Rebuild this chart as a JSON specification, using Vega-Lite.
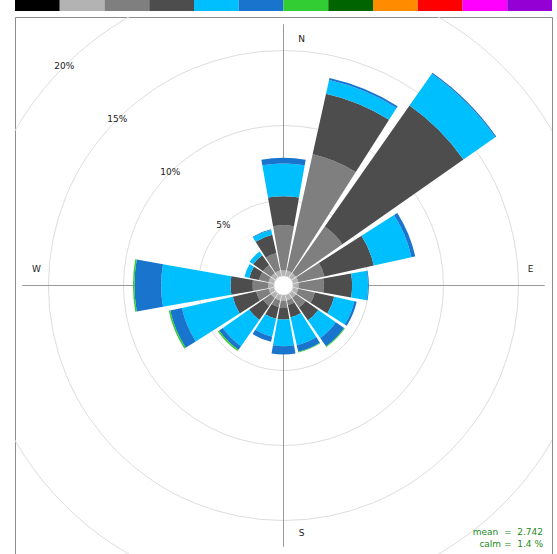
{
  "$schema": "https://vega.github.io/schema/vega-lite/v6.json",
  "bounds": "flush",
  "padding": {"left": 14, "top": 0, "right": 6, "bottom": 0},
  "spacing": 6,
  "config": {"view": {"stroke": null}, "font": "DejaVu Sans"},
  "datasets": {
    "bins": [
      {"k": 1, "ws": "0 to 0.5"}, {"k": 2, "ws": "0.5 to 1"}, {"k": 3, "ws": "1 to 2"}, {"k": 4, "ws": "2 to 3"},
      {"k": 5, "ws": "3 to 4"}, {"k": 6, "ws": "4 to 5"}, {"k": 7, "ws": "5 to 6"}, {"k": 8, "ws": "6 to 7"},
      {"k": 9, "ws": "7 to 8"}, {"k": 10, "ws": "8 to 9"}, {"k": 11, "ws": "9 to 10"}, {"k": 12, "ws": "10 to 11"}
    ],
    "rings": [{"pct": 5, "label": "5%"}, {"pct": 10, "label": "10%"}, {"pct": 15, "label": "15%"}, {"pct": 20, "label": "20%"}, {"pct": 25, "label": "25%"}],
    "axes": [{"angle": 0}, {"angle": 90}, {"angle": 180}, {"angle": 270}],
    "rose": [
      {"wd": 0, "k": 2, "ws": "0.5 to 1", "freq": 0.35}, {"wd": 0, "k": 3, "ws": "1 to 2", "freq": 3.0}, {"wd": 0, "k": 4, "ws": "2 to 3", "freq": 1.94}, {"wd": 0, "k": 5, "ws": "3 to 4", "freq": 2.18}, {"wd": 0, "k": 6, "ws": "4 to 5", "freq": 0.38},
      {"wd": 22.5, "k": 2, "ws": "0.5 to 1", "freq": 0.35}, {"wd": 22.5, "k": 3, "ws": "1 to 2", "freq": 7.95}, {"wd": 22.5, "k": 4, "ws": "2 to 3", "freq": 4.13}, {"wd": 22.5, "k": 5, "ws": "3 to 4", "freq": 0.94}, {"wd": 22.5, "k": 6, "ws": "4 to 5", "freq": 0.13},
      {"wd": 45, "k": 2, "ws": "0.5 to 1", "freq": 0.35}, {"wd": 45, "k": 3, "ws": "1 to 2", "freq": 3.78}, {"wd": 45, "k": 4, "ws": "2 to 3", "freq": 9.85}, {"wd": 45, "k": 5, "ws": "3 to 4", "freq": 2.59}, {"wd": 45, "k": 6, "ws": "4 to 5", "freq": 0.08},
      {"wd": 67.5, "k": 2, "ws": "0.5 to 1", "freq": 0.35}, {"wd": 67.5, "k": 3, "ws": "1 to 2", "freq": 1.78}, {"wd": 67.5, "k": 4, "ws": "2 to 3", "freq": 3.37}, {"wd": 67.5, "k": 5, "ws": "3 to 4", "freq": 2.57}, {"wd": 67.5, "k": 6, "ws": "4 to 5", "freq": 0.26},
      {"wd": 90, "k": 2, "ws": "0.5 to 1", "freq": 0.35}, {"wd": 90, "k": 3, "ws": "1 to 2", "freq": 1.67}, {"wd": 90, "k": 4, "ws": "2 to 3", "freq": 1.89}, {"wd": 90, "k": 5, "ws": "3 to 4", "freq": 1.06}, {"wd": 90, "k": 6, "ws": "4 to 5", "freq": 0.05},
      {"wd": 112.5, "k": 2, "ws": "0.5 to 1", "freq": 0.35}, {"wd": 112.5, "k": 3, "ws": "1 to 2", "freq": 1.12}, {"wd": 112.5, "k": 4, "ws": "2 to 3", "freq": 1.33}, {"wd": 112.5, "k": 5, "ws": "3 to 4", "freq": 1.37}, {"wd": 112.5, "k": 6, "ws": "4 to 5", "freq": 0.16},
      {"wd": 135, "k": 2, "ws": "0.5 to 1", "freq": 0.35}, {"wd": 135, "k": 3, "ws": "1 to 2", "freq": 0.78}, {"wd": 135, "k": 4, "ws": "2 to 3", "freq": 1.04}, {"wd": 135, "k": 5, "ws": "3 to 4", "freq": 1.43}, {"wd": 135, "k": 6, "ws": "4 to 5", "freq": 0.67}, {"wd": 135, "k": 7, "ws": "5 to 6", "freq": 0.06},
      {"wd": 157.5, "k": 2, "ws": "0.5 to 1", "freq": 0.35}, {"wd": 157.5, "k": 3, "ws": "1 to 2", "freq": 0.32}, {"wd": 157.5, "k": 4, "ws": "2 to 3", "freq": 0.83}, {"wd": 157.5, "k": 5, "ws": "3 to 4", "freq": 1.9}, {"wd": 157.5, "k": 6, "ws": "4 to 5", "freq": 0.45}, {"wd": 157.5, "k": 7, "ws": "5 to 6", "freq": 0.05},
      {"wd": 180, "k": 2, "ws": "0.5 to 1", "freq": 0.35}, {"wd": 180, "k": 3, "ws": "1 to 2", "freq": 0.45}, {"wd": 180, "k": 4, "ws": "2 to 3", "freq": 0.8}, {"wd": 180, "k": 5, "ws": "3 to 4", "freq": 1.78}, {"wd": 180, "k": 6, "ws": "4 to 5", "freq": 0.55},
      {"wd": 202.5, "k": 2, "ws": "0.5 to 1", "freq": 0.35}, {"wd": 202.5, "k": 3, "ws": "1 to 2", "freq": 0.45}, {"wd": 202.5, "k": 4, "ws": "2 to 3", "freq": 0.8}, {"wd": 202.5, "k": 5, "ws": "3 to 4", "freq": 1.23}, {"wd": 202.5, "k": 6, "ws": "4 to 5", "freq": 0.34},
      {"wd": 225, "k": 2, "ws": "0.5 to 1", "freq": 0.35}, {"wd": 225, "k": 3, "ws": "1 to 2", "freq": 0.65}, {"wd": 225, "k": 4, "ws": "2 to 3", "freq": 1.13}, {"wd": 225, "k": 5, "ws": "3 to 4", "freq": 2.14}, {"wd": 225, "k": 6, "ws": "4 to 5", "freq": 0.3}, {"wd": 225, "k": 7, "ws": "5 to 6", "freq": 0.1},
      {"wd": 247.5, "k": 2, "ws": "0.5 to 1", "freq": 0.35}, {"wd": 247.5, "k": 3, "ws": "1 to 2", "freq": 0.85}, {"wd": 247.5, "k": 4, "ws": "2 to 3", "freq": 1.6}, {"wd": 247.5, "k": 5, "ws": "3 to 4", "freq": 3.47}, {"wd": 247.5, "k": 6, "ws": "4 to 5", "freq": 0.8}, {"wd": 247.5, "k": 7, "ws": "5 to 6", "freq": 0.1},
      {"wd": 270, "k": 2, "ws": "0.5 to 1", "freq": 0.35}, {"wd": 270, "k": 3, "ws": "1 to 2", "freq": 1.05}, {"wd": 270, "k": 4, "ws": "2 to 3", "freq": 1.47}, {"wd": 270, "k": 5, "ws": "3 to 4", "freq": 4.62}, {"wd": 270, "k": 6, "ws": "4 to 5", "freq": 1.78}, {"wd": 270, "k": 7, "ws": "5 to 6", "freq": 0.1},
      {"wd": 292.5, "k": 2, "ws": "0.5 to 1", "freq": 0.35}, {"wd": 292.5, "k": 3, "ws": "1 to 2", "freq": 0.65}, {"wd": 292.5, "k": 4, "ws": "2 to 3", "freq": 0.67}, {"wd": 292.5, "k": 5, "ws": "3 to 4", "freq": 0.33},
      {"wd": 315, "k": 2, "ws": "0.5 to 1", "freq": 0.35}, {"wd": 315, "k": 3, "ws": "1 to 2", "freq": 0.65}, {"wd": 315, "k": 4, "ws": "2 to 3", "freq": 0.8}, {"wd": 315, "k": 5, "ws": "3 to 4", "freq": 0.3},
      {"wd": 337.5, "k": 2, "ws": "0.5 to 1", "freq": 0.35}, {"wd": 337.5, "k": 3, "ws": "1 to 2", "freq": 1.18}, {"wd": 337.5, "k": 4, "ws": "2 to 3", "freq": 1.27}, {"wd": 337.5, "k": 5, "ws": "3 to 4", "freq": 0.33}, {"wd": 337.5, "k": 6, "ws": "4 to 5", "freq": 0.04}
    ]
  },
  "vconcat": [
    {
      "width": 537,
      "height": 11,
      "data": {"name": "bins"},
      "mark": {"type": "bar"},
      "encoding": {
        "x": {"field": "ws", "type": "ordinal", "sort": {"field": "k"}, "scale": {"paddingInner": 0, "paddingOuter": 0}, "axis": null},
        "color": {
          "field": "ws", "type": "ordinal",
          "scale": {
            "domain": ["0 to 0.5", "0.5 to 1", "1 to 2", "2 to 3", "3 to 4", "4 to 5", "5 to 6", "6 to 7", "7 to 8", "8 to 9", "9 to 10", "10 to 11"],
            "range": ["#000000", "#b3b3b3", "#7f7f7f", "#4d4d4d", "#00bfff", "#1874cd", "#32cd32", "#006400", "#ff8c00", "#ff0000", "#ff00ff", "#9400d3"]
          },
          "legend": null
        }
      }
    },
    {
      "width": 537,
      "height": 537,
      "view": {"stroke": "#8c8c8c", "strokeWidth": 1},
      "layer": [
        {
          "data": {"name": "rings"},
          "mark": {"type": "arc", "filled": false, "stroke": "#dddddd", "strokeWidth": 1, "clip": true},
          "encoding": {
            "theta": {"datum": 0, "type": "quantitative", "scale": {"type": "linear", "domain": [0, 360], "range": [0, 6.283185307179586]}},
            "theta2": {"datum": 360},
            "radius": {"field": "pct", "type": "quantitative", "stack": null, "scale": {"type": "linear", "domain": [0, 25], "range": [10, 385], "zero": false}}
          }
        },
        {
          "data": {"name": "axes"},
          "mark": {"type": "arc", "filled": false, "stroke": "#999999", "strokeWidth": 1},
          "encoding": {
            "theta": {"field": "angle", "type": "quantitative", "stack": null},
            "theta2": {"field": "angle"},
            "radius": {"datum": 16.73, "type": "quantitative"}
          }
        },
        {
          "data": {"name": "rose"},
          "transform": [{"stack": "freq", "groupby": ["wd"], "sort": [{"field": "k", "order": "ascending"}], "as": ["lo", "hi"]}],
          "mark": {"type": "arc", "thetaOffset": -0.1745, "theta2Offset": 0.1745},
          "encoding": {
            "theta": {"field": "wd", "type": "quantitative", "stack": null},
            "theta2": {"field": "wd"},
            "radius": {"field": "hi", "type": "quantitative", "stack": null},
            "radius2": {"field": "lo"},
            "color": {"field": "ws", "type": "ordinal", "legend": null}
          }
        },
        {
          "data": {"name": "rings"},
          "transform": [{"filter": "datum.pct <= 20"}],
          "mark": {"type": "text", "fontSize": 9, "color": "#222222"},
          "encoding": {
            "theta": {"datum": 315, "type": "quantitative"},
            "radius": {"field": "pct", "type": "quantitative", "stack": null},
            "text": {"field": "label"}
          }
        },
        {
          "data": {"values": [{"dir": "N", "angle": 0}, {"dir": "S", "angle": 180}]},
          "mark": {"type": "text", "fontSize": 9, "color": "#222222", "dx": 18},
          "encoding": {
            "theta": {"field": "angle", "type": "quantitative", "stack": null},
            "radius": {"datum": 15.8, "type": "quantitative"},
            "text": {"field": "dir"}
          }
        },
        {
          "data": {"values": [{"dir": "E", "angle": 90}, {"dir": "W", "angle": 270}]},
          "mark": {"type": "text", "fontSize": 9, "color": "#222222", "dy": -17},
          "encoding": {
            "theta": {"field": "angle", "type": "quantitative", "stack": null},
            "radius": {"datum": 15.8, "type": "quantitative"},
            "text": {"field": "dir"}
          }
        },
        {
          "data": {"values": [{"mean": 2.742, "calm": 1.4}]},
          "mark": {"type": "text", "fontSize": 9, "color": "#228b22", "align": "right", "baseline": "alphabetic", "lineHeight": 12, "dx": -9, "dy": -19},
          "encoding": {
            "x": {"value": "width"},
            "y": {"value": "height"},
            "text": {"value": ["mean\u00a0\u00a0=\u00a0\u00a02.742", "calm\u00a0=\u00a0\u00a01.4\u00a0%"]}
          }
        }
      ]
    }
  ]
}
